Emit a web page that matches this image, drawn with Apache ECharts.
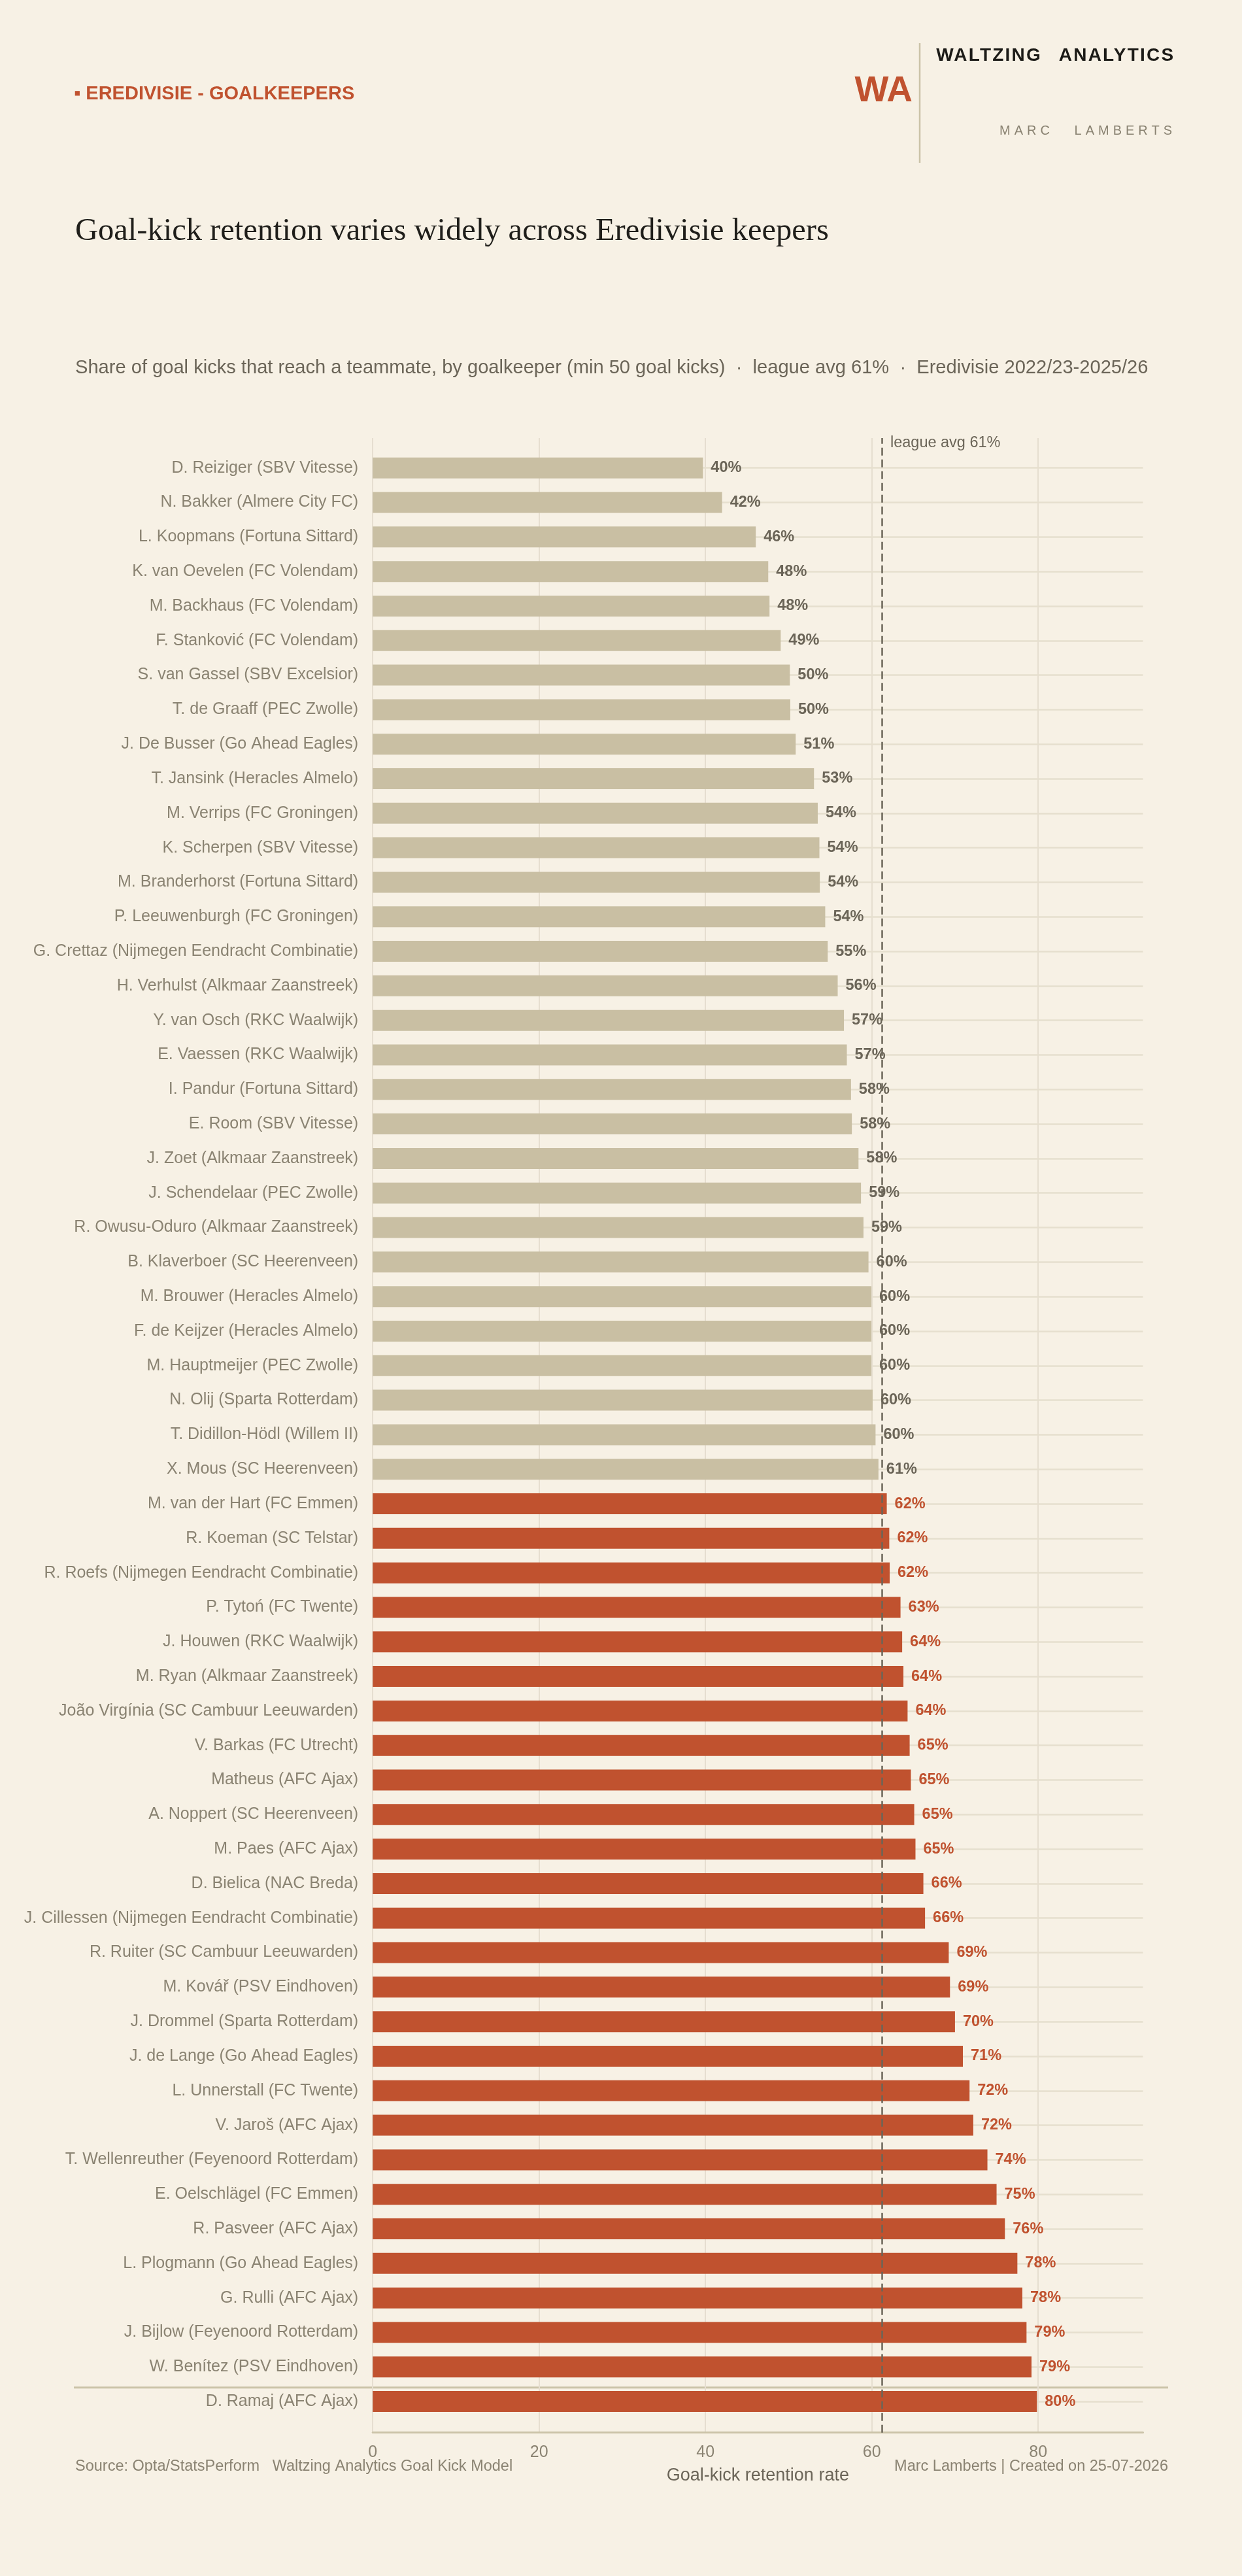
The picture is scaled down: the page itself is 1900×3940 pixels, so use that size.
<!DOCTYPE html>
<html><head><meta charset="utf-8">
<script src="https://cdn.jsdelivr.net/npm/echarts@6/dist/echarts.min.js"></script>
<style>
html,body{margin:0;padding:0;background:#F7F1E5;overflow:hidden;width:1900px;height:3940px}
#chart{width:1900px;height:3940px;position:absolute;left:0;top:0}
.brand{position:absolute;font-family:'Liberation Sans',Arial,sans-serif;white-space:pre;line-height:1}
</style></head><body>
<div id="chart"></div>
<div class="brand" style="right:102.7px;top:70px;font-size:28px;font-weight:bold;letter-spacing:2.2px;word-spacing:17px;color:#1C1B17">WALTZING ANALYTICS</div>
<div class="brand" style="right:101px;top:189px;font-size:20px;letter-spacing:6px;word-spacing:20px;color:#8A8372">MARC LAMBERTS</div>
<script>
const categories = [
  "D. Reiziger (SBV Vitesse)","N. Bakker (Almere City FC)","L. Koopmans (Fortuna Sittard)",
  "K. van Oevelen (FC Volendam)","M. Backhaus (FC Volendam)","F. Stanković (FC Volendam)",
  "S. van Gassel (SBV Excelsior)","T. de Graaff (PEC Zwolle)","J. De Busser (Go Ahead Eagles)",
  "T. Jansink (Heracles Almelo)","M. Verrips (FC Groningen)","K. Scherpen (SBV Vitesse)",
  "M. Branderhorst (Fortuna Sittard)","P. Leeuwenburgh (FC Groningen)","G. Crettaz (Nijmegen Eendracht Combinatie)",
  "H. Verhulst (Alkmaar Zaanstreek)","Y. van Osch (RKC Waalwijk)","E. Vaessen (RKC Waalwijk)",
  "I. Pandur (Fortuna Sittard)","E. Room (SBV Vitesse)","J. Zoet (Alkmaar Zaanstreek)",
  "J. Schendelaar (PEC Zwolle)","R. Owusu-Oduro (Alkmaar Zaanstreek)","B. Klaverboer (SC Heerenveen)",
  "M. Brouwer (Heracles Almelo)","F. de Keijzer (Heracles Almelo)","M. Hauptmeijer (PEC Zwolle)",
  "N. Olij (Sparta Rotterdam)","T. Didillon-Hödl (Willem II)","X. Mous (SC Heerenveen)",
  "M. van der Hart (FC Emmen)","R. Koeman (SC Telstar)","R. Roefs (Nijmegen Eendracht Combinatie)",
  "P. Tytoń (FC Twente)","J. Houwen (RKC Waalwijk)","M. Ryan (Alkmaar Zaanstreek)",
  "João Virgínia (SC Cambuur Leeuwarden)","V. Barkas (FC Utrecht)","Matheus (AFC Ajax)",
  "A. Noppert (SC Heerenveen)","M. Paes (AFC Ajax)","D. Bielica (NAC Breda)",
  "J. Cillessen (Nijmegen Eendracht Combinatie)","R. Ruiter (SC Cambuur Leeuwarden)","M. Kovář (PSV Eindhoven)",
  "J. Drommel (Sparta Rotterdam)","J. de Lange (Go Ahead Eagles)","L. Unnerstall (FC Twente)",
  "V. Jaroš (AFC Ajax)","T. Wellenreuther (Feyenoord Rotterdam)","E. Oelschlägel (FC Emmen)",
  "R. Pasveer (AFC Ajax)","L. Plogmann (Go Ahead Eagles)","G. Rulli (AFC Ajax)",
  "J. Bijlow (Feyenoord Rotterdam)","W. Benítez (PSV Eindhoven)","D. Ramaj (AFC Ajax)"
];
const retention = [
  39.7, 42.0, 46.05, 47.55, 47.7, 49.05, 50.15, 50.2, 50.85, 53.05,
  53.5, 53.7, 53.75, 54.4, 54.7, 55.9, 56.65, 57.0, 57.5, 57.6,
  58.4, 58.7, 59.0, 59.6, 59.95, 59.95, 59.95, 60.1, 60.45, 60.8,
  61.8, 62.1, 62.15, 63.45, 63.65, 63.8, 64.3, 64.55, 64.7, 65.1,
  65.25, 66.2, 66.4, 69.25, 69.4, 70.0, 70.95, 71.75, 72.2, 73.9,
  75.0, 76.0, 77.5, 78.1, 78.6, 79.2, 79.85
];
const leagueAvg = 61.2;
const xTicks = { min: 0, max: 92.6, interval: 20 };

const BG = '#F7F1E5', ORANGE = '#C0522F', BEIGE = '#C9BFA3', DARK = '#6B6558',
      LABEL = '#8A8372', RULE = '#CBC3A8', GRIDV = '#E6DED0', ROW = '#E6DFCE', TITLE = '#1F1E1A';
const SANS = "'Liberation Sans', Arial, sans-serif";
const SERIF = "'Liberation Serif', 'Times New Roman', serif";

const GL = 570.2, GW = 1178.3;

const chart = echarts.init(document.getElementById('chart'), null, { width: 1900, height: 3940 });

const barData = retention.map(v => ({
  value: v,
  itemStyle: { color: v >= leagueAvg ? ORANGE : BEIGE },
  label: { color: v >= leagueAvg ? ORANGE : DARK }
}));

const option = {
  backgroundColor: BG,
  animation: false,
  textStyle: { fontFamily: SANS },
  grid: [
    { left: GL, width: GW, top: 670, height: 3050.7, containLabel: false },
    { left: GL, width: GW, top: 689.3, height: 3010.2, containLabel: false }
  ],
  xAxis: [
    {
      gridIndex: 0, type: 'value', min: xTicks.min, max: xTicks.max, interval: xTicks.interval,
      axisLine: { show: true, lineStyle: { color: RULE, width: 3 } },
      axisTick: { show: false },
      axisLabel: { fontSize: 25, color: LABEL, margin: 18, fontFamily: SANS, showMaxLabel: false },
      splitLine: { show: true, showMaxLine: false, lineStyle: { color: GRIDV, width: 2 } },
      name: 'Goal-kick retention rate', nameLocation: 'middle', nameGap: 52,
      nameTextStyle: { fontSize: 27, color: DARK, fontFamily: SANS }
    },
    {
      gridIndex: 1, type: 'value', min: xTicks.min, max: xTicks.max, interval: xTicks.interval, show: false,
      splitLine: { show: false }
    }
  ],
  yAxis: [
    { gridIndex: 0, type: 'value', min: 0, max: 1, show: false, splitLine: { show: false } },
    {
      gridIndex: 1, type: 'category', data: categories, inverse: true,
      axisLine: { show: false },
      axisTick: { show: true, inside: true, length: GW, alignWithLabel: true, interval: 0,
                  lineStyle: { color: ROW, width: 2.5 } },
      axisLabel: { interval: 0, margin: 22, fontSize: 25, color: LABEL, fontFamily: SANS },
      splitLine: { show: false }
    }
  ],
  series: [
    {
      type: 'bar', xAxisIndex: 1, yAxisIndex: 1, data: barData, barWidth: 32, z: 2, silent: true,
      label: {
        show: true, position: 'right', distance: 12, fontSize: 23.5, fontWeight: 'bold', fontFamily: SANS,
        formatter: p => Math.round(p.value) + '%'
      }
    },
    {
      type: 'scatter', xAxisIndex: 0, yAxisIndex: 0, data: [], silent: true,
      markLine: {
        silent: true, symbol: ['none', 'none'], z: 5,
        label: { show: false },
        lineStyle: { type: [12, 6], color: DARK, width: 2.5 },
        data: [{ xAxis: leagueAvg }]
      }
    }
  ],
  graphic: [
    { type: 'text', left: 113, top: 129, style: { text: '▪ EREDIVISIE - GOALKEEPERS', font: "bold 29px " + SANS, fill: ORANGE, verticalAlign: 'middle' } },
    { type: 'text', x: 1396, y: 140, style: { text: 'WA', font: "bold 55px " + SANS, fill: ORANGE, align: 'right', verticalAlign: 'middle' } },
    { type: 'line', shape: { x1: 1407, y1: 66, x2: 1407, y2: 249 }, style: { stroke: RULE, lineWidth: 2.5 } },
    { type: 'text', x: 115, y: 354, style: { text: 'Goal-kick retention varies widely across Eredivisie keepers', font: "48.5px " + SERIF, fill: TITLE, verticalAlign: 'middle' } },
    { type: 'text', x: 115, y: 563, style: { text: 'Share of goal kicks that reach a teammate, by goalkeeper (min 50 goal kicks)  ·  league avg 61%  ·  Eredivisie 2022/23-2025/26', font: "29.1px " + SANS, fill: DARK, verticalAlign: 'middle' } },
    { type: 'line', shape: { x1: 113, y1: 3651.7, x2: 1787, y2: 3651.7 }, style: { stroke: RULE, lineWidth: 3 } },
    { type: 'text', x: 115, y: 3773, style: { text: 'Source: Opta/StatsPerform   Waltzing Analytics Goal Kick Model', font: "23.5px " + SANS, fill: LABEL, verticalAlign: 'middle' } },
    { type: 'text', x: 1787, y: 3773, style: { text: 'Marc Lamberts | Created on 25-07-2026', font: "23.5px " + SANS, fill: LABEL, align: 'right', verticalAlign: 'middle' } }
  ]
};
chart.setOption(option);

const avgX = chart.convertToPixel({ xAxisIndex: 0 }, leagueAvg);
option.graphic.push({ type: 'text', x: avgX + 13, y: 678, style: { text: 'league avg 61%', font: "23.5px " + SANS, fill: DARK, verticalAlign: 'middle' } });
chart.setOption({ graphic: option.graphic });
</script>
</body></html>
